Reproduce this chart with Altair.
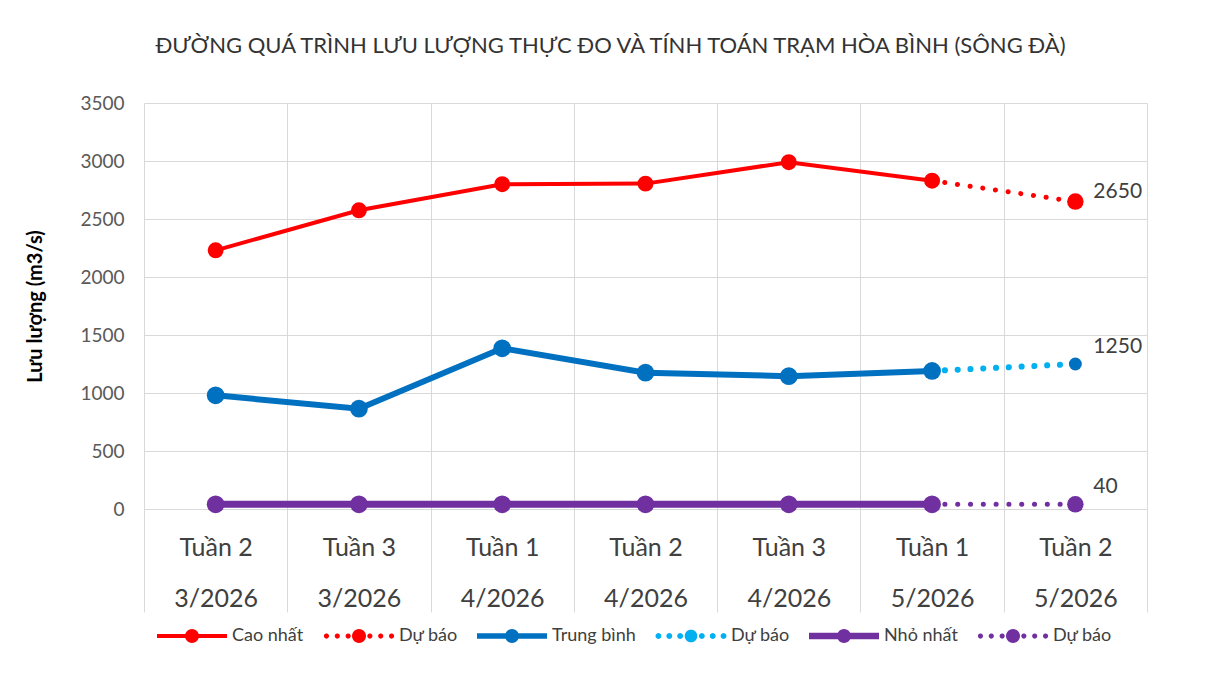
import altair as alt
import pandas as pd
import math

# ---------------- data ----------------
weeks = ["Tuần 2", "Tuần 3", "Tuần 1", "Tuần 2", "Tuần 3", "Tuần 1", "Tuần 2"]
months = ["3/2026", "3/2026", "4/2026", "4/2026", "4/2026", "5/2026", "5/2026"]
categories = [f"{w}|{m}" for w, m in zip(weeks, months)]

max_actual = [2230, 2575, 2800, 2805, 2990, 2830]
max_forecast = 2650
mean_actual = [980, 865, 1385, 1175, 1145, 1190]
mean_forecast = 1250
min_actual = [40, 40, 40, 40, 40, 40]
min_forecast = 40

legend_keys = ["Cao nhất", "Dự báo (cao)", "Trung bình", "Dự báo (tb)", "Nhỏ nhất", "Dự báo (nhỏ)"]
legend_colors = ["#FF0000", "#FF0000", "#0070C0", "#00B0F0", "#7030A0", "#7030A0"]

FONT = "Lato"

# ---------------- legend symbols (style) ----------------
def circ(cx, r, n=28):
    pts = []
    for i in range(n):
        a = 2 * math.pi * i / n
        pts.append(f"{cx + r*math.cos(a):.4f},{r*math.sin(a):.4f}")
    return "M" + " L".join(pts) + " Z"

def solid_sym(t=0.07, r=0.2):
    return f"M-1,{-t} L1,{-t} L1,{t} L-1,{t} Z " + circ(0, r)

def dotted_sym(r=0.2, d=0.075):
    s = circ(0, r)
    for cx in [-0.93, -0.62, -0.31, 0.31, 0.62, 0.93]:
        s += " " + circ(cx, d, 12)
    return s

legend_shapes = [solid_sym(0.06), dotted_sym(), solid_sym(0.08), dotted_sym(0.18, 0.085), solid_sym(0.09), dotted_sym()]

# ---------------- encodings ----------------
x_enc = alt.X(
    "cat:N",
    scale=alt.Scale(type="band", domain=categories, paddingInner=0, paddingOuter=0),
    axis=alt.Axis(
        title=None,
        labelExpr="split(datum.label, '|')",
        labelAngle=0,
        labelFont=FONT,
        labelFontSize=25,
        labelColor="#404040",
        labelLineHeight=51,
        labelPadding=-77,
        labelBaseline="top",
        labelAlign="center",
        tickBand="extent",
        tickSize=103,
        tickColor="#D9D9D9",
        tickWidth=1,
        grid=True,
        gridColor="#D9D9D9",
        gridWidth=1,
        domainColor="#D9D9D9",
        domainWidth=1,
    ),
)

y_enc = alt.Y(
    "value:Q",
    scale=alt.Scale(domain=[0, 3500], nice=False),
    axis=alt.Axis(
        values=list(range(0, 3501, 500)),
        format="d",
        title="Lưu lượng (m3/s)",
        titleFont=FONT,
        titleFontSize=20,
        titleFontWeight="bold",
        titleColor="#000000",
        titleX=-109,
        titleY=203,
        titleAngle=-90,
        titleAlign="center",
        titleBaseline="middle",
        labelFont=FONT,
        labelFontSize=19,
        labelColor="#595959",
        labelPadding=20,
        ticks=False,
        tickSize=0,
        domain=False,
        grid=True,
        gridColor="#D9D9D9",
        gridWidth=1,
    ),
)

# ---------------- layers ----------------
series = [
    # actual, forecast, color, forecast color, line width, actual size, forecast size, dot width, label dy
    (max_actual, max_forecast, "#FF0000", "#FF0000", 4, 254, 272, 5, -10),
    (mean_actual, mean_forecast, "#0070C0", "#00B0F0", 6, 314, 167, 6, -17),
    (min_actual, min_forecast, "#7030A0", "#7030A0", 7, 314, 272, 5, -17),
]

layers = []
for act, fc, col, fcol, lw, s_act, s_fc, dw, ldy in series:
    act_df = pd.DataFrame({"cat": categories[:6], "value": act})
    fc_df = pd.DataFrame({"cat": categories[5:7], "value": [act[-1], fc]})
    end_df = fc_df.tail(1)
    layers.append(
        alt.Chart(fc_df).mark_line(color=fcol, strokeWidth=dw, strokeDash=[0.1, 12.7], strokeCap="round")
        .encode(x=x_enc, y=y_enc)
    )
    layers.append(
        alt.Chart(act_df).mark_line(color=col, strokeWidth=lw).encode(x=x_enc, y=y_enc)
    )
    layers.append(
        alt.Chart(act_df).mark_circle(color=col, size=s_act, opacity=1).encode(x=x_enc, y=y_enc)
    )
    layers.append(
        alt.Chart(end_df).mark_circle(color=col, size=s_fc, opacity=1).encode(x=x_enc, y=y_enc)
    )
    layers.append(
        alt.Chart(end_df).mark_text(align="left", baseline="middle", dx=18, dy=ldy, font=FONT,
                                    fontSize=21, color="#404040")
        .encode(x=x_enc, y=y_enc, text=alt.Text("value:Q", format="d"))
    )

leg = alt.Legend(
    title=None,
    orient="none",
    legendX=13,
    legendY=498,
    direction="horizontal",
    columns=6,
    symbolSize=4900,
    symbolStrokeWidth=0,
    symbolOpacity=1,
    labelExpr="indexof(datum.label, 'Dự báo') >= 0 ? 'Dự báo' : datum.label",
    labelFont=FONT,
    labelFontSize=18,
    labelColor="#404040",
    labelOffset=5,
    columnPadding=19,
    padding=0,
)

legend_df = pd.DataFrame({"key": legend_keys})
legend_layer = (
    alt.Chart(legend_df)
    .transform_filter("false")
    .mark_point(filled=True, opacity=1)
    .encode(
        color=alt.Color("key:N", scale=alt.Scale(domain=legend_keys, range=legend_colors), legend=leg),
        shape=alt.Shape("key:N", scale=alt.Scale(domain=legend_keys, range=legend_shapes), legend=leg),
    )
)
layers.append(legend_layer)

chart = (
    alt.layer(*layers)
    .properties(
        width=1003,
        height=406,
        autosize=alt.AutoSizeParams(type="none"),
        padding={"left": 136, "top": 95, "right": 60, "bottom": 165},
        title=alt.Title(
            "ĐƯỜNG QUÁ TRÌNH LƯU LƯỢNG THỰC ĐO VÀ TÍNH TOÁN TRẠM HÒA BÌNH (SÔNG ĐÀ)",
            font=FONT,
            fontSize=22,
            fontWeight="normal",
            color="#333333",
            anchor="middle",
            frame="group",
            offset=19,
            dx=-35,
            baseline="alphabetic",
        ),
    )
    .configure_view(stroke=None)
)

chart.save("out.html", embed_options={"renderer": "svg", "actions": False})
